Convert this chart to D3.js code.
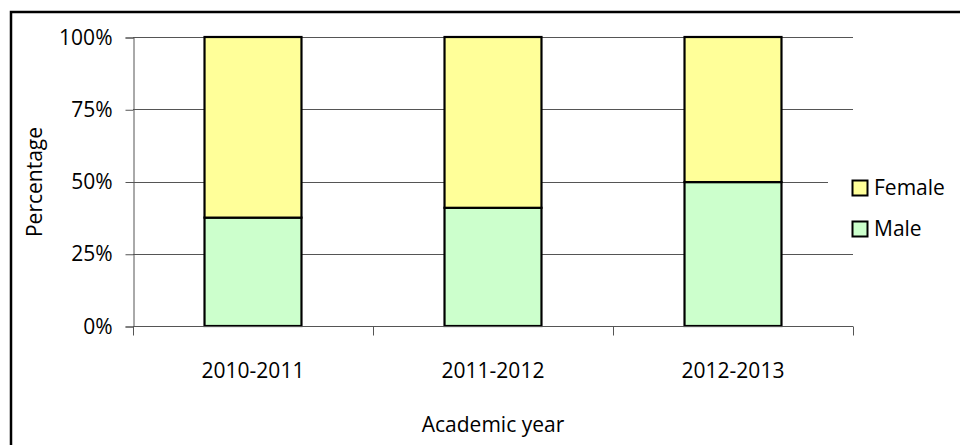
<!DOCTYPE html>
<html>
<head>
<meta charset="utf-8">
<script src="https://cdn.jsdelivr.net/npm/d3@7"></script>
<style>
  html, body { margin: 0; padding: 0; background: #fff; }
  svg { display: block; font-family: "Open Sans", sans-serif; }
</style>
</head>
<body>
<svg id="chart" width="960" height="445"></svg>
<script>
// Student gender split per academic year (percent of enrolment)
const years = ["2010-2011", "2011-2012", "2012-2013"];
const male = [37.5, 40.9, 49.8];
const female = [62.5, 59.1, 50.2];
const seriesNames = ["Female", "Male"];
const seriesColors = { Female: "#FFFF99", Male: "#CCFFCC" };
const yTicks = [0, 25, 50, 75, 100];

const svg = d3.select("#chart");
const W = 960, H = 445;
const plot = { left: 133, right: 853, top: 37, bottom: 326 };

// outer frame
svg.append("rect")
  .attr("x", 11).attr("y", 12)
  .attr("width", W + 10).attr("height", H + 10)
  .attr("fill", "#fff").attr("stroke", "#000").attr("stroke-width", 2.5);

const x = d3.scaleBand()
  .domain(years)
  .range([plot.left, plot.right])
  .paddingInner(0.596)
  .paddingOuter(0.298);

const y = d3.scaleLinear().domain([0, 100]).range([plot.bottom, plot.top]);

// horizontal gridlines
svg.append("g")
  .selectAll("line")
  .data(yTicks.filter(d => d > 0))
  .join("line")
  .attr("x1", plot.left).attr("x2", plot.right)
  .attr("y1", d => Math.round(y(d)) + 0.5).attr("y2", d => Math.round(y(d)) + 0.5)
  .attr("stroke", "#555").attr("stroke-width", 1);

// y axis
const yAxis = svg.append("g")
  .attr("transform", `translate(${plot.left + 0.5},0.5)`)
  .call(d3.axisLeft(y).tickValues(yTicks).tickFormat(d => d + "%").tickSize(8).tickPadding(13));
yAxis.select(".domain").attr("stroke", "#555");
yAxis.selectAll(".tick line").attr("stroke", "#555");
yAxis.selectAll("text").attr("font-size", 21).attr("fill", "#000")
  .attr("font-family", "'Open Sans', sans-serif");

// stacked bars
const stackData = years.map((yr, i) => ({ year: yr, Male: male[i], Female: female[i] }));
const stacked = d3.stack().keys(["Male", "Female"])(stackData);

svg.append("g")
  .selectAll("g")
  .data(stacked)
  .join("g")
  .attr("fill", d => seriesColors[d.key])
  .selectAll("rect")
  .data(d => d)
  .join("rect")
  .attr("x", d => x(d.data.year))
  .attr("y", d => y(d[1]))
  .attr("width", x.bandwidth())
  .attr("height", d => y(d[0]) - y(d[1]))
  .attr("stroke", "#000")
  .attr("stroke-width", 2.2);

// x axis with ticks at category boundaries
const xAxisG = svg.append("g").attr("transform", `translate(0,${Math.round(y(0)) + 0.5})`);
xAxisG.append("line")
  .attr("x1", plot.left).attr("x2", plot.right)
  .attr("stroke", "#555");
const step = x.step();
const boundaries = d3.range(years.length + 1).map(i => plot.left + i * step);
xAxisG.selectAll(".bt")
  .data(boundaries)
  .join("line")
  .attr("class", "bt")
  .attr("x1", d => Math.round(d) + 0.5).attr("x2", d => Math.round(d) + 0.5)
  .attr("y1", 0).attr("y2", 9)
  .attr("stroke", "#555");
xAxisG.selectAll(".xl")
  .data(years)
  .join("text")
  .attr("class", "xl")
  .attr("x", d => x(d) + x.bandwidth() / 2)
  .attr("y", 51)
  .attr("text-anchor", "middle")
  .attr("font-size", 21)
  .text(d => d);

// axis titles
svg.append("text")
  .attr("transform", "translate(42,182) rotate(-90)")
  .attr("text-anchor", "middle")
  .attr("font-size", 21)
  .text("Percentage");

svg.append("text")
  .attr("x", 493).attr("y", 432)
  .attr("text-anchor", "middle")
  .attr("font-size", 21)
  .text("Academic year");

// legend
const legend = svg.append("g");
legend.append("rect")
  .attr("x", 828).attr("y", 168).attr("width", 120).attr("height", 80)
  .attr("fill", "#fff");
const items = legend.selectAll("g.item")
  .data(seriesNames)
  .join("g")
  .attr("class", "item")
  .attr("transform", (d, i) => `translate(852,${180 + i * 41})`);
items.append("rect")
  .attr("x", 0.5).attr("y", 0.5).attr("width", 15).attr("height", 15)
  .attr("fill", d => seriesColors[d])
  .attr("stroke", "#000").attr("stroke-width", 2);
items.append("text")
  .attr("x", 22).attr("y", 8)
  .attr("dy", "0.35em")
  .attr("font-size", 21)
  .text(d => d);
</script>
</body>
</html>
